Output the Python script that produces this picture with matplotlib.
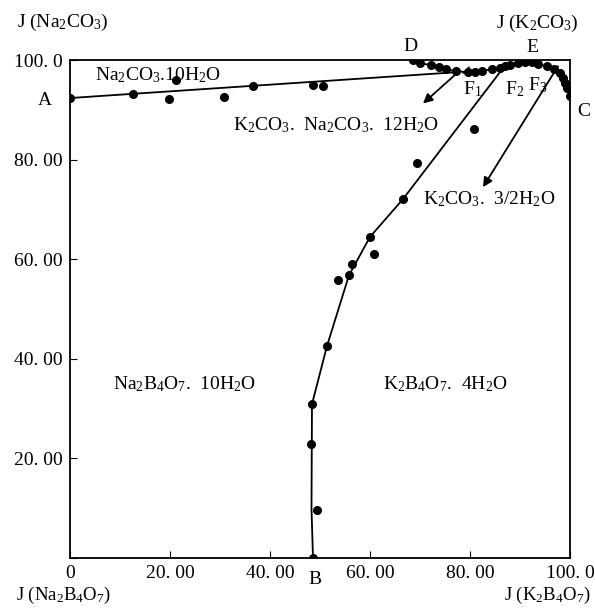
import numpy as np
import matplotlib.pyplot as plt

plt.rcParams['font.family'] = ['Liberation Serif', 'DejaVu Serif']
plt.rcParams['mathtext.fontset'] = 'custom'
plt.rcParams['mathtext.rm'] = 'Liberation Serif'
plt.rcParams['mathtext.it'] = 'Liberation Serif'

# Na2CO3.10H2O branch (A -> F1)
a_x = [0, 12.6, 19.8, 21.3, 30.8, 36.7, 48.7, 50.7]
a_y = [92.4, 93.2, 92.2, 96.0, 92.6, 94.8, 95.0, 94.8]
a_line_x = [0, 77.5]
a_line_y = [92.4, 97.6]

# D - E - C branch
dc_x = [68.7, 70.0, 72.3, 73.7, 75.1, 77.1, 79.5, 80.9, 82.3, 84.3, 86.0, 87.0,
        88.0, 89.6, 91.0, 91.6, 92.3, 93.6, 95.3, 96.7, 98.0, 98.6, 99.0, 99.3, 100.0]
dc_y = [100.0, 99.4, 99.0, 98.6, 98.2, 97.8, 97.6, 97.6, 97.8, 98.2, 98.4, 98.8,
        99.1, 99.4, 99.6, 100.4, 99.6, 99.2, 98.8, 98.2, 97.4, 96.4, 95.4, 94.4, 92.8]

# borax branch (B -> F2)
b_x = [48.6, 49.4, 48.2, 48.4, 51.4, 53.6, 55.8, 56.4, 60.0, 60.8, 66.6, 69.4, 80.8]
b_y = [0.0, 9.6, 22.9, 30.9, 42.6, 55.8, 56.8, 59.0, 64.5, 61.0, 72.1, 79.3, 86.1]
b_line_x = [48.6, 48.3, 48.4, 51.4, 55.8, 60.0, 66.6, 86.0]
b_line_y = [0.0, 10.0, 30.9, 42.6, 56.8, 64.5, 72.1, 97.6]

ticks = [0, 20, 40, 60, 80, 100]
xtick_labels = ['0', '20. 00', '40. 00', '60. 00', '80. 00', '100. 0']
ytick_labels = ['', '20. 00', '40. 00', '60. 00', '80. 00', '100. 0']

fig = plt.figure(figsize=(5.95, 6.08), dpi=100)
ax = fig.add_axes([0.1176, 0.0822, 0.8404, 0.8188])

k = 'black'
ax.plot(a_line_x, a_line_y, color=k, lw=1.3)
ax.plot(dc_x, dc_y, color=k, lw=1.3)
ax.plot(b_line_x, b_line_y, color=k, lw=1.3)
ax.plot(a_x, a_y, 'o', color=k, ms=5.5)
ax.plot(dc_x, dc_y, 'o', color=k, ms=5.5)
ax.plot(b_x, b_y, 'o', color=k, ms=5.5)

# small tick at F1, arrows into the salt fields
ax.plot([78.6, 79.8], [97.4, 98.6], color=k, lw=1)
arr = dict(arrowstyle='-|>', color=k, lw=1.3, mutation_scale=14, shrinkA=0, shrinkB=0)
ax.annotate('', xy=(70.6, 91.3), xytext=(77.5, 97.5), arrowprops=arr)
ax.annotate('', xy=(82.6, 74.5), xytext=(97.6, 98.8), arrowprops=arr)

ax.set_xlim(0, 100)
ax.set_ylim(0, 100)
ax.set_xticks(ticks)
ax.set_xticklabels(xtick_labels)
ax.set_yticks(ticks)
ax.set_yticklabels(ytick_labels)
ax.tick_params(direction='in', length=5, labelsize=14, pad=5)
for s in ax.spines.values():
    s.set_linewidth(1.3)

fs = 14
ax.text(5, 97, r'Na$_2$CO$_3$.10H$_2$O', fontsize=fs, va='center')
ax.text(32.6, 87, r'K$_2$CO$_3$.  Na$_2$CO$_3$.  12H$_2$O', fontsize=fs, va='center')
ax.text(70.6, 72, r'K$_2$CO$_3$.  3/2H$_2$O', fontsize=fs, va='center')
ax.text(8.6, 35, r'Na$_2$B$_4$O$_7$.  10H$_2$O', fontsize=fs, va='center')
ax.text(62.6, 35, r'K$_2$B$_4$O$_7$.  4H$_2$O', fontsize=fs, va='center')

pts = [('A', -5, 92), ('B', 49, -4.4), ('C', 102.8, 89.6), ('D', 68, 102.8),
       ('E', 92.4, 102.6), (r'F$_1$', 80.5, 94.2), (r'F$_2$', 89, 94.2),
       (r'F$_3$', 93.6, 95.0)]
for t, x, y in pts:
    ax.text(x, y, t, fontsize=fs, ha='center', va='center', clip_on=False)

ax.text(-10.6, 107.5, r'J (Na$_2$CO$_3$)', fontsize=fs, va='center', clip_on=False)
ax.text(93.4, 107.3, r'J (K$_2$CO$_3$)', fontsize=fs, ha='center', va='center', clip_on=False)
ax.text(-10.8, -7.6, r'J (Na$_2$B$_4$O$_7$)', fontsize=13.5, va='center', clip_on=False)
ax.text(104.2, -7.6, r'J (K$_2$B$_4$O$_7$)', fontsize=13.5, ha='right', va='center', clip_on=False)

fig.savefig('out.png', dpi=100)
